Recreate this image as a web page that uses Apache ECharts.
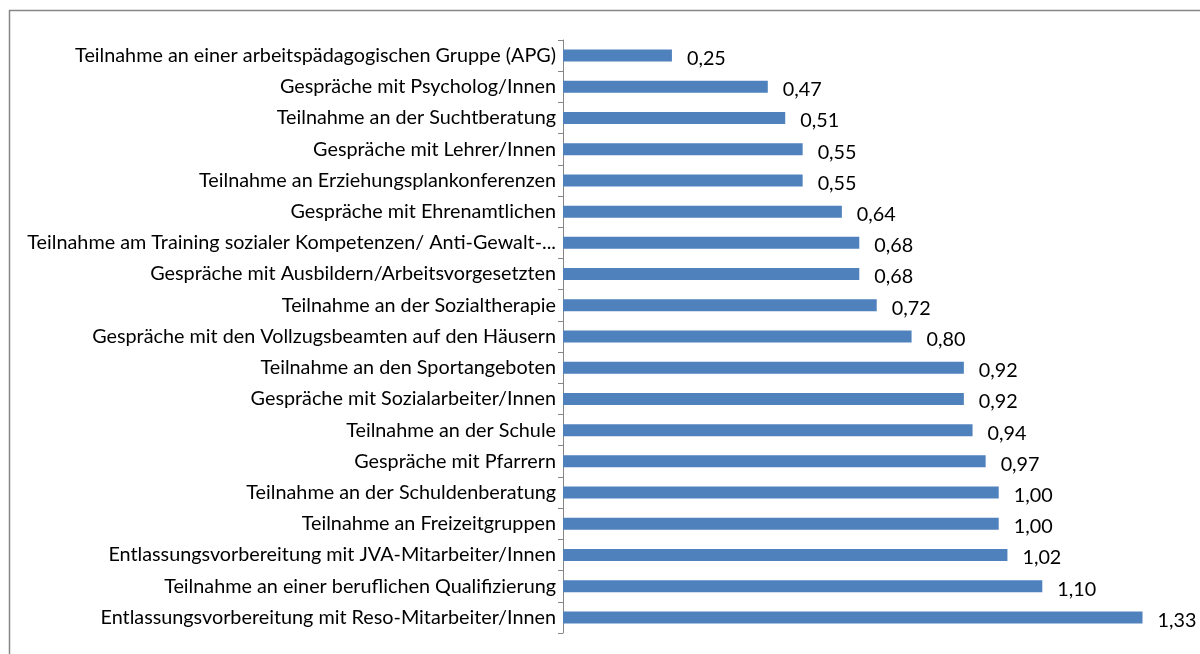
<!DOCTYPE html>
<html>
<head>
<meta charset="utf-8">
<script src="https://cdn.jsdelivr.net/npm/echarts@6/dist/echarts.min.js"></script>
<style>
  html, body { margin: 0; padding: 0; background: #fff; }
  #chart { width: 1200px; height: 654px; }
</style>
</head>
<body>
<div id="chart"></div>
<script>
  // Kategorien von oben nach unten
  const categories = [
    'Teilnahme an einer arbeitspädagogischen Gruppe (APG)',
    'Gespräche mit Psycholog/Innen',
    'Teilnahme an der Suchtberatung',
    'Gespräche mit Lehrer/Innen',
    'Teilnahme an Erziehungsplankonferenzen',
    'Gespräche mit Ehrenamtlichen',
    'Teilnahme am Training sozialer Kompetenzen/ Anti-Gewalt-...',
    'Gespräche mit Ausbildern/Arbeitsvorgesetzten',
    'Teilnahme an der Sozialtherapie',
    'Gespräche mit den Vollzugsbeamten auf den Häusern',
    'Teilnahme an den Sportangeboten',
    'Gespräche mit Sozialarbeiter/Innen',
    'Teilnahme an der Schule',
    'Gespräche mit Pfarrern',
    'Teilnahme an der Schuldenberatung',
    'Teilnahme an Freizeitgruppen',
    'Entlassungsvorbereitung mit JVA-Mitarbeiter/Innen',
    'Teilnahme an einer beruflichen Qualifizierung',
    'Entlassungsvorbereitung mit Reso-Mitarbeiter/Innen'
  ];
  const values = [0.25, 0.47, 0.51, 0.55, 0.55, 0.64, 0.68, 0.68, 0.72, 0.80,
                  0.92, 0.92, 0.94, 0.97, 1.00, 1.00, 1.02, 1.10, 1.33];

  const chart = echarts.init(document.getElementById('chart'));
  const font = 'Lato, sans-serif';
  chart.setOption({
    animation: false,
    backgroundColor: '#fff',
    textStyle: { fontFamily: font },
    graphic: [{
      type: 'rect',
      shape: { x: 9.5, y: 10.5, width: 1300, height: 700 },
      style: { fill: 'none', stroke: '#868686', lineWidth: 1.5 },
      silent: true
    }],
    grid: { left: 563, right: 27, top: 40, bottom: 21 },
    xAxis: {
      type: 'value',
      min: 0,
      max: 1.4,
      show: false
    },
    yAxis: {
      type: 'category',
      inverse: true,
      data: categories,
      axisLine: { lineStyle: { color: '#868686', width: 1 } },
      axisTick: { show: true, length: 5, lineStyle: { color: '#868686' } },
      axisLabel: { color: '#000', fontSize: 19.8, fontFamily: font, margin: 7 }
    },
    series: [{
      type: 'bar',
      data: values,
      barWidth: 12,
      itemStyle: { color: '#4F81BD' },
      label: {
        show: true,
        position: 'right',
        distance: 15,
        offset: [0, 3],
        color: '#000',
        fontSize: 19.8,
        fontFamily: font,
        formatter: p => p.value.toFixed(2).replace('.', ',')
      }
    }]
  });
</script>
</body>
</html>
